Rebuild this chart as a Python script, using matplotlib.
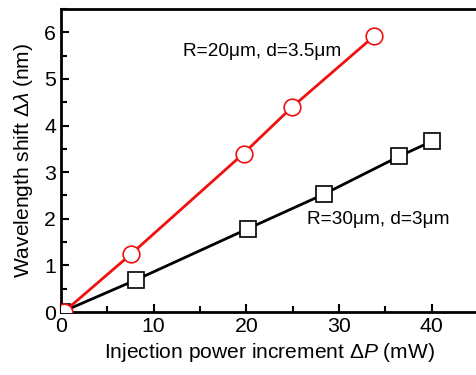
import matplotlib
matplotlib.use("Agg")
import matplotlib.pyplot as plt
from matplotlib.ticker import MultipleLocator

plt.rcParams['font.family'] = ['Liberation Sans', 'DejaVu Sans']
plt.rcParams['mathtext.fontset'] = 'custom'
plt.rcParams['mathtext.rm'] = 'Liberation Sans'
plt.rcParams['mathtext.it'] = 'Liberation Sans:italic'

# Data
x_r20 = [0.3, 7.6, 19.7, 24.9, 33.8]
y_r20 = [0.0, 1.25, 3.40, 4.39, 5.92]
x_r30 = [0.1, 8.1, 20.2, 28.4, 36.5, 40.0]
y_r30 = [0.0, 0.69, 1.79, 2.53, 3.34, 3.66]
label_r20 = "R=20μm, d=3.5μm"
label_r30 = "R=30μm, d=3μm"

fig = plt.figure(figsize=(4.76, 3.75), dpi=100)
ax = fig.add_axes([61/476, 1-312/375, (478-61)/476, (312-9)/375])

ax.plot(x_r30, y_r30, color='black', lw=2, marker='s', ms=11, mfc='white',
        mec='black', mew=1.2, zorder=3)
ax.plot(x_r20, y_r20, color='#f01010', lw=2, marker='o', ms=12, mfc='white',
        mec='#f01010', mew=1.2, zorder=4)

ax.set_xlim(0, 45)
ax.set_ylim(0, 6.5)
ax.xaxis.set_major_locator(MultipleLocator(10))
ax.xaxis.set_minor_locator(MultipleLocator(5))
ax.yaxis.set_major_locator(MultipleLocator(1))
ax.yaxis.set_minor_locator(MultipleLocator(0.5))
ax.tick_params(which='both', direction='in', top=False, right=False, width=1.5,
               labelsize=15.3)
ax.tick_params(which='major', length=6)
ax.tick_params(which='minor', length=4)
for s in ax.spines.values():
    s.set_linewidth(2)

ax.set_xlabel(r"Injection power increment $\mathit{ΔP}$ (mW)", fontsize=15.1, labelpad=4)
ax.set_ylabel(r"Wavelength shift $\mathit{Δλ}$ (nm)", fontsize=15.1, labelpad=7)

ax.text(13.2, 5.58, label_r20, fontsize=13.7, va='center', ha='left')
ax.text(26.5, 1.98, label_r30, fontsize=13.7, va='center', ha='left')

fig.savefig("out.png", dpi=100)
